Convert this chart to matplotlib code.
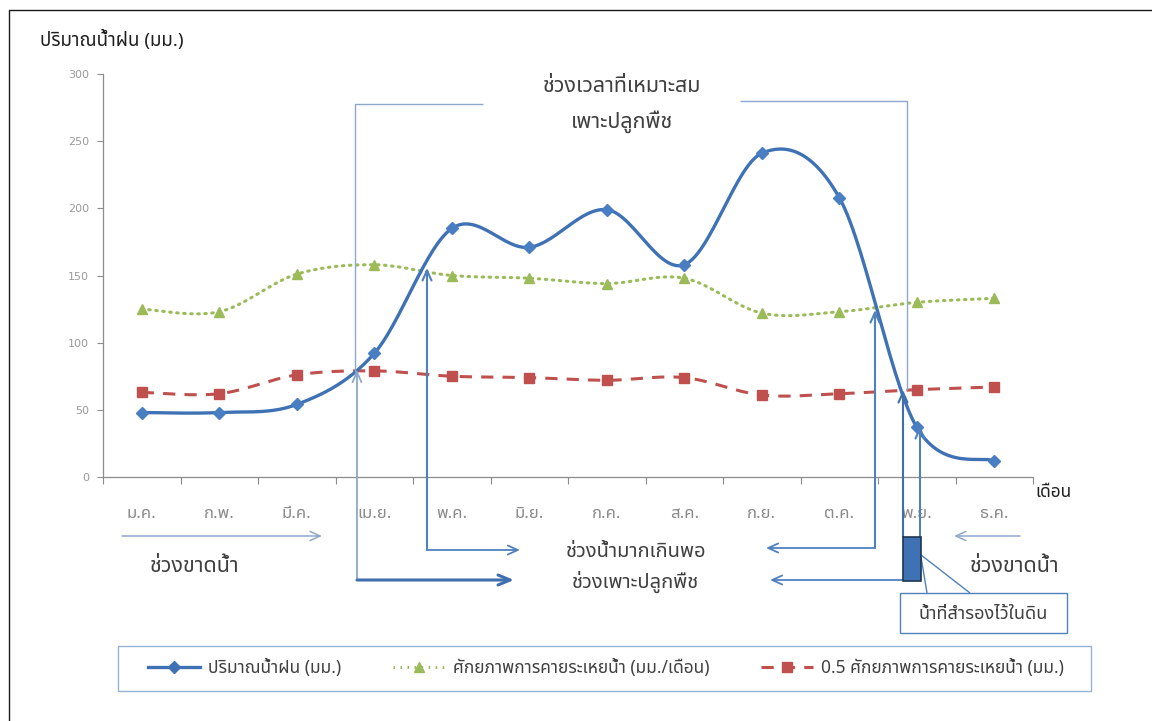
import numpy as np
import matplotlib
matplotlib.use("Agg")
import matplotlib.pyplot as plt
from matplotlib import font_manager as fm
from matplotlib.lines import Line2D
from matplotlib.patches import Rectangle, FancyArrowPatch
from matplotlib.ft2font import FT2Font

# ---------------- data ----------------
months = ["ม.ค.", "ก.พ.", "มี.ค.", "เม.ย.", "พ.ค.", "มิ.ย.",
          "ก.ค.", "ส.ค.", "ก.ย.", "ต.ค.", "พ.ย.", "ธ.ค."]
rain = [48, 48, 54, 92, 185, 171, 199, 158, 241, 208, 37, 12]
pet = [125, 123, 151, 158, 150, 148, 144, 148, 122, 123, 130, 133]
half_pet = [63, 62, 76, 79, 75, 74, 72, 74, 61, 62, 65, 67]
yticks = [0, 50, 100, 150, 200, 250, 300]

series_names = ["ปริมาณน้ำฝน (มม.)",
                "ศักยภาพการคายระเหยน้ำ (มม./เดือน)",
                "0.5 ศักยภาพการคายระเหยน้ำ (มม.)"]

# ---------------- font with Thai coverage ----------------
thai_family = None
preferred = ["Noto Sans Thai", "Noto Sans Thai Looped", "Noto Serif Thai",
             "Tahoma", "Garuda", "Loma", "Norasi", "Kinnari", "Sawasdee",
             "Umpush", "Waree", "Laksaman", "TH Sarabun New"]
cands = []
for f in fm.fontManager.ttflist:
    try:
        cm = FT2Font(f.fname).get_charmap()
        if 0x0E01 in cm and 0x0E49 in cm:
            cands.append(f.name)
    except Exception:
        pass
for p in preferred:
    if p in cands:
        thai_family = p
        break
if thai_family is None and cands:
    thai_family = cands[0]
FAM = ([thai_family] if thai_family else []) + ["DejaVu Sans"]
plt.rcParams["font.family"] = FAM

W, H = 1152, 721
fig = plt.figure(figsize=(W / 100, H / 100), dpi=100)

ax = fig.add_axes([103 / W, 1 - 477 / H, (1033 - 103) / W, (477 - 74) / H])

x = np.arange(len(months)) + 0.5


def excel_smooth(xs, ys, n=30):
    pts = np.column_stack([xs, ys]).astype(float)
    ext = np.vstack([pts[0], pts, pts[-1]])
    out = []
    for i in range(len(pts) - 1):
        p0, p1, p2, p3 = ext[i], ext[i + 1], ext[i + 2], ext[i + 3]
        c1 = p1 + (p2 - p0) / 6.0
        c2 = p2 - (p3 - p1) / 6.0
        t = np.linspace(0, 1, n)[:, None]
        seg = ((1 - t) ** 3) * p1 + 3 * ((1 - t) ** 2) * t * c1 + 3 * (1 - t) * t ** 2 * c2 + t ** 3 * p2
        out.append(seg if i == 0 else seg[1:])
    s = np.vstack(out)
    return s[:, 0], s[:, 1]


c_rain = "#3F72B5"
c_pet = "#9BBB59"
c_half = "#C0504D"
dot = (0, (0.5, 1.8))
dash = (0, (4, 3))

sx, sy = excel_smooth(x, pet)
ax.plot(sx, sy, color=c_pet, lw=2.2, ls=dot, dash_capstyle="round", zorder=2)
ax.plot(x, pet, ls="none", marker="^", ms=7.5, color=c_pet, zorder=3)

sx, sy = excel_smooth(x, half_pet)
ax.plot(sx, sy, color=c_half, lw=2.2, ls=dash, zorder=2)
ax.plot(x, half_pet, ls="none", marker="s", ms=7.5, color=c_half, zorder=3)

sx, sy = excel_smooth(x, rain)
ax.plot(sx, sy, color=c_rain, lw=2.4, zorder=4)
ax.plot(x, rain, ls="none", marker="D", ms=6, color="#4A7EC2", zorder=5)

ax.set_xlim(0, 12)
ax.set_ylim(0, 300)
ax.set_yticks(yticks)
ax.set_yticklabels([str(v) for v in yticks], fontsize=8, color="#9A9A9A",
                   family="DejaVu Sans")
ax.set_xticks(x)
ax.set_xticklabels(months, fontsize=12, color="#8A8A8A")
ax.set_xticks(np.arange(0, 13), minor=True)
ax.tick_params(axis="x", which="major", length=0, pad=21)
ax.tick_params(axis="x", which="minor", length=5, color="#8C8C8C", width=0.8)
ax.tick_params(axis="y", length=4, color="#8C8C8C", width=0.8, pad=6)
for s in ["top", "right"]:
    ax.spines[s].set_visible(False)
for s in ["left", "bottom"]:
    ax.spines[s].set_color("#8C8C8C")
    ax.spines[s].set_linewidth(0.9)
ax.set_facecolor("none")

# ---------------- annotation overlay (figure pixels) ----------------
ov = fig.add_axes([0, 0, 1, 1], facecolor="none")
ov.set_xlim(0, W)
ov.set_ylim(H, 0)
ov.axis("off")

# outer frame
ov.plot([9, 9, W + 5], [H + 5, 10, 10], color="#1A1A1A", lw=1.0)

txt = "#404040"
lc = "#4F81BD"
lc_light = "#8EA8CC"

ov.text(40, 40, "ปริมาณน้ำฝน (มม.)", fontsize=13.5, color="#202020",
        ha="left", va="center")
ov.text(1035, 492, "เดือน", fontsize=12.5, color="#202020", ha="left", va="center")


def line(xs, ys, c=lc_light, lw=1.0):
    ov.plot(xs, ys, color=c, lw=lw, solid_capstyle="butt")


def arrow(p0, p1, c=lc, lw=1.3, head=(10, 4.5)):
    a = FancyArrowPatch(p0, p1, arrowstyle=f"->,head_length={head[0]/1.39:.2f},head_width={head[1]/1.39:.2f}",
                        color=c, lw=lw, mutation_scale=1, shrinkA=0, shrinkB=0)
    ov.add_patch(a)


# big bracket "ช่วงเวลาที่เหมาะสม เพาะปลูกพืช"
line([483, 355, 355], [104, 104, 372])
line([740, 907, 907], [101, 101, 390])
ov.text(622, 86, "ช่วงเวลาที่เหมาะสม", fontsize=15.5, color=txt, ha="center", va="center")
ov.text(622, 122, "เพาะปลูกพืช", fontsize=15.5, color=txt, ha="center", va="center")

# left arrows
arrow((357, 580), (357, 370), c=lc_light, lw=1.3)
arrow((357, 580), (514, 580), c="#3F6FAF", lw=2.2, head=(12, 5))
arrow((427, 550), (427, 268), c=lc, lw=1.5)
arrow((427, 550), (520, 550), c=lc, lw=1.3)

# right arrows
arrow((875, 548), (875, 310), c=lc, lw=1.5)
arrow((875, 548), (766, 548), c=lc, lw=1.3)
arrow((903, 580), (770, 580), c=lc, lw=1.3)
arrow((903, 537), (903, 390), c="#3F6FAF", lw=1.5)
arrow((920, 537), (920, 426), c=lc, lw=1.5)

ov.add_patch(Rectangle((903, 537), 18, 44, facecolor="#3F72B5", edgecolor="#1F3550", lw=1.2, zorder=5))

ov.text(636, 552, "ช่วงน้ำมากเกินพอ", fontsize=14.5, color=txt, ha="center", va="center")
ov.text(636, 582, "ช่วงเพาะปลูกพืช", fontsize=14.5, color=txt, ha="center", va="center")

# water shortage arrows
arrow((122, 536), (322, 536), c=lc_light, lw=1.1)
ov.text(195, 567, "ช่วงขาดน้ำ", fontsize=15.5, color=txt, ha="center", va="center")
arrow((1020, 536), (954, 536), c=lc_light, lw=1.1)
ov.text(1015, 567, "ช่วงขาดน้ำ", fontsize=15.5, color=txt, ha="center", va="center")

# callout
line([921, 927], [557, 593], c=lc, lw=1.0)
line([921, 970], [555, 593], c=lc, lw=1.0)
ov.add_patch(Rectangle((900, 593), 167, 40, facecolor="white", edgecolor=lc, lw=1.0, zorder=6))
ov.text(983, 614, "น้ำที่สำรองไว้ในดิน", fontsize=13, color=txt, ha="center", va="center", zorder=7)

# legend
ov.add_patch(Rectangle((118, 646), 973, 45, facecolor="white", edgecolor="#95B3D7", lw=1.0, zorder=1))
handles = [
    Line2D([0, 0.5, 1], [0, 0, 0], color=c_rain, lw=2.4, marker="D", ms=6, markevery=[1]),
    Line2D([0, 0.5, 1], [0, 0, 0], color=c_pet, lw=2.2, ls=dot, marker="^", ms=7, markevery=[1]),
    Line2D([0, 0.5, 1], [0, 0, 0], color=c_half, lw=2.2, ls=dash, marker="s", ms=7, markevery=[1]),
]
leg = fig.legend(handles, series_names, ncol=3, loc="center",
                 bbox_to_anchor=(606 / W, 1 - 668 / H),
                 borderaxespad=0, frameon=False, fontsize=12.5,
                 handlelength=3.0, handletextpad=0.45,
                 labelcolor=txt, columnspacing=3.0)
leg.set_zorder(10)

fig.savefig("out.png", dpi=100)
